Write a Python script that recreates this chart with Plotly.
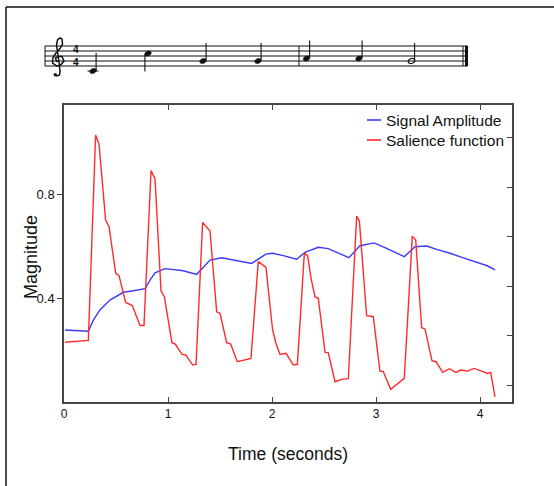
import math
import plotly.graph_objects as go

# ---------------- data ----------------
time_salience = [0.01, 0.234, 0.304, 0.337, 0.40, 0.433, 0.497, 0.529, 0.593, 0.657, 0.731, 0.769,
                 0.837, 0.875, 0.933, 0.965, 1.038, 1.07, 1.135, 1.17, 1.237, 1.27,
                 1.333, 1.404, 1.468, 1.5, 1.564, 1.603, 1.666, 1.798,
                 1.868, 1.942, 2.006, 2.038, 2.077, 2.135, 2.205, 2.244,
                 2.311, 2.343, 2.375, 2.413, 2.445, 2.51, 2.541, 2.606, 2.67, 2.734,
                 2.814, 2.84, 2.91, 2.974, 3.038, 3.07, 3.141, 3.272,
                 3.349, 3.382, 3.439, 3.471, 3.538, 3.577, 3.641, 3.705, 3.769, 3.814,
                 3.878, 3.942, 4.016, 4.07, 4.103, 4.144]
salience = [0.23, 0.237, 1.027, 0.992, 0.70, 0.674, 0.495, 0.486, 0.383, 0.371, 0.294, 0.294,
            0.890, 0.860, 0.427, 0.405, 0.228, 0.223, 0.183, 0.181, 0.142, 0.145,
            0.691, 0.658, 0.347, 0.341, 0.228, 0.223, 0.155, 0.168,
            0.54, 0.518, 0.277, 0.226, 0.183, 0.187, 0.142, 0.145,
            0.572, 0.562, 0.476, 0.405, 0.399, 0.191, 0.19, 0.078, 0.087, 0.09,
            0.715, 0.697, 0.332, 0.328, 0.119, 0.117, 0.049, 0.091,
            0.638, 0.623, 0.286, 0.281, 0.159, 0.155, 0.114, 0.128, 0.114, 0.123,
            0.119, 0.129, 0.119, 0.110, 0.114, 0.02]

time_amplitude = [0.01, 0.234, 0.282, 0.346, 0.442, 0.57, 0.667, 0.779, 0.827, 0.875, 0.971,
                  1.147, 1.276, 1.34, 1.404, 1.516, 1.804, 1.942, 2.006, 2.109, 2.237,
                  2.317, 2.445, 2.541, 2.638, 2.74, 2.846, 2.981, 3.07, 3.183, 3.272,
                  3.375, 3.487, 3.583, 3.712, 3.84, 3.968, 4.07, 4.144]
amplitude = [0.277, 0.272, 0.315, 0.354, 0.392, 0.422, 0.428, 0.436, 0.469, 0.497, 0.513,
             0.505, 0.491, 0.52, 0.546, 0.555, 0.533, 0.569, 0.572, 0.563, 0.549,
             0.576, 0.595, 0.59, 0.572, 0.555, 0.601, 0.612, 0.597, 0.574, 0.559,
             0.597, 0.6, 0.587, 0.572, 0.554, 0.538, 0.524, 0.508]

series_names = ["Signal Amplitude", "Salience function"]
x_ticks = [0, 1, 2, 3, 4]
y_ticks = [0.4, 0.8]
y_tick_labels = ["0.4", "0.8"]

# melody shown on the staff
note_pitches = ["C4", "C5", "G4", "G4", "A4", "A4", "G4"]
note_durations = ["quarter", "quarter", "quarter", "quarter", "quarter", "quarter", "half"]
note_measures = [1, 1, 1, 1, 2, 2, 2]

# ---------------- layout geometry ----------------
W, H = 554, 486
ML, MR, MT, MB = 64, 42, 105, 84
PW, PH = W - ML - MR, H - MT - MB
FONT = "Liberation Sans, Arial, Helvetica, sans-serif"
AX = "#444444"
RED = "#ff2b2b"
BLUE = "#3a3aff"


def px(x):
    return (x - ML) / PW


def py(y):
    return (H - MB - y) / PH


def path_from(points, close=False):
    s = "M " + " L ".join(f"{px(a):.5f},{py(b):.5f}" for a, b in points)
    return s + (" Z" if close else "")


fig = go.Figure()
fig.add_trace(go.Scatter(x=time_amplitude, y=amplitude, mode="lines", name=series_names[0],
                         line=dict(color=BLUE, width=1.4), showlegend=False))
fig.add_trace(go.Scatter(x=time_salience, y=salience, mode="lines", name=series_names[1],
                         line=dict(color=RED, width=1.4), showlegend=False))
fig.add_trace(go.Scatter(x=[None], y=[None], yaxis="y2", showlegend=False, hoverinfo="skip"))

shapes = []
annotations = []

# legend (manual: short line + label)
for i, (nm, col) in enumerate(zip(series_names, [BLUE, RED])):
    yy = 120 + i * 20
    shapes.append(dict(type="line", xref="paper", yref="paper", x0=px(367), x1=px(381),
                       y0=py(yy), y1=py(yy), line=dict(color=col, width=1.6)))
    annotations.append(dict(text=nm, xref="paper", yref="paper", x=px(384), y=py(yy),
                            xanchor="left", yanchor="middle", showarrow=False,
                            font=dict(family=FONT, size=15.5, color="#111")))

# y title
annotations.append(dict(text="Magnitude", xref="paper", yref="paper", x=px(31), y=py(257),
                        textangle=-90, showarrow=False, xanchor="center", yanchor="middle",
                        font=dict(family=FONT, size=18, color="#111")))

# outer frame (left and top edges)
shapes.append(dict(type="line", xref="paper", yref="paper", x0=px(6), x1=px(6), y0=py(7), y1=py(490),
                   line=dict(color="#111", width=1.5)))
shapes.append(dict(type="line", xref="paper", yref="paper", x0=px(6), x1=px(560), y0=py(7), y1=py(7),
                   line=dict(color="#111", width=1.5)))

# ---------------- music staff ----------------
STAFF_X0, STAFF_X1 = 45, 468
STAFF_BOTTOM, SP = 66, 5
for k in range(5):
    yy = STAFF_BOTTOM - k * SP
    shapes.append(dict(type="line", xref="paper", yref="paper", x0=px(STAFF_X0), x1=px(STAFF_X1),
                       y0=py(yy), y1=py(yy), line=dict(color="#111", width=1)))
for bx, bw in [(STAFF_X0, 1), (299, 1), (463, 1), (466.5, 3)]:
    shapes.append(dict(type="line", xref="paper", yref="paper", x0=px(bx), x1=px(bx),
                       y0=py(STAFF_BOTTOM), y1=py(STAFF_BOTTOM - 4 * SP), line=dict(color="#111", width=bw)))

# treble clef drawn as a path
clef = [(59, 61), (56.5, 61.5), (55.5, 58), (58.5, 56.5), (62, 56.5), (64, 61), (61, 64.5),
        (57, 66), (52.5, 63), (53, 57.5), (56, 53), (60, 48.5), (62.5, 44), (62, 39), (60, 38),
        (57.5, 40), (56.5, 45), (57.5, 52), (59, 62), (60, 71), (59.5, 75), (57, 76), (55, 74.5)]
shapes.append(dict(type="path", xref="paper", yref="paper", path=path_from(clef),
                   line=dict(color="#111", width=1.5)))
shapes.append(dict(type="circle", xref="paper", yref="paper", x0=px(53.5), x1=px(57), y0=py(76.5),
                   y1=py(73), fillcolor="#111", line=dict(color="#111", width=0)))
# time signature 4/4
annotations.append(dict(text="<b>4<br>4</b>", xref="paper", yref="paper", x=px(76), y=py(56),
                        showarrow=False, xanchor="center", yanchor="middle",
                        font=dict(family="Liberation Sans, Arial, sans-serif", size=10, color="#111")))

steps = {"C4": -2, "D4": -1, "E4": 0, "F4": 1, "G4": 2, "A4": 3, "B4": 4, "C5": 5}
measure_start = {1: 93, 2: 306.5}
measure_step = {1: 55, 2: 52.5}
count = {1: 0, 2: 0}
for pitch, dur, m in zip(note_pitches, note_durations, note_measures):
    cx = measure_start[m] + count[m] * measure_step[m]
    count[m] += 1
    st = steps[pitch]
    cy = STAFF_BOTTOM - st * SP / 2
    s = -2
    while s >= st:
        shapes.append(dict(type="line", xref="paper", yref="paper", x0=px(cx - 5.5), x1=px(cx + 5.5),
                           y0=py(STAFF_BOTTOM - s * SP / 2), y1=py(STAFF_BOTTOM - s * SP / 2),
                           line=dict(color="#111", width=1)))
        s -= 2
    rx, ry, ang = 3.4, 2.4, math.radians(-22)
    pts = []
    for j in range(24):
        a = 2 * math.pi * j / 24
        ex, ey = rx * math.cos(a), ry * math.sin(a)
        pts.append((cx + ex * math.cos(ang) - ey * math.sin(ang), cy + ex * math.sin(ang) + ey * math.cos(ang)))
    if dur == "half":
        shapes.append(dict(type="path", xref="paper", yref="paper", path=path_from(pts, True),
                           fillcolor="rgba(0,0,0,0)", line=dict(color="#111", width=1.2)))
    else:
        shapes.append(dict(type="path", xref="paper", yref="paper", path=path_from(pts, True),
                           fillcolor="#111", line=dict(color="#111", width=0.5)))
    if st >= 4:
        sx, y0s, y1s = cx - 3.1, cy + 0.8, cy + 18
    else:
        sx, y0s, y1s = cx + 3.1, cy - 0.8, cy - 18
    shapes.append(dict(type="line", xref="paper", yref="paper", x0=px(sx), x1=px(sx),
                       y0=py(y0s), y1=py(y1s), line=dict(color="#111", width=1.1)))

fig.update_layout(
    width=W, height=H,
    margin=dict(l=ML, r=MR, t=MT, b=MB, autoexpand=False),
    paper_bgcolor="white", plot_bgcolor="white",
    font=dict(family=FONT, color="#111"),
    shapes=shapes, annotations=annotations,
    xaxis=dict(range=[0, PW / 104.0], tickvals=x_ticks, ticks="inside", ticklen=5, tickwidth=1.3,
               tickcolor=AX, showline=True, linecolor=AX, linewidth=1.5, mirror="ticks",
               showgrid=False, zeroline=False, tickfont=dict(size=12, family=FONT),
               title=dict(text="Time (seconds)", font=dict(size=17.5, family=FONT), standoff=28)),
    yaxis=dict(range=[0, PH / 260.0], tickvals=y_ticks, ticktext=y_tick_labels, ticks="outside",
               ticklen=5, tickwidth=1.3, tickcolor=AX, showline=True, linecolor=AX, linewidth=1.5,
               showgrid=False, zeroline=False, tickfont=dict(size=13, family=FONT)),
    yaxis2=dict(overlaying="y", side="right", range=[-17 / 49.5, (PH - 17) / 49.5], dtick=1, tick0=0,
                ticks="inside", ticklen=5, tickwidth=1.3, tickcolor=AX, showline=True, linecolor=AX,
                linewidth=1.5, showticklabels=False, showgrid=False, zeroline=False),
)

fig.write_html("out.html", config={"displayModeBar": False},
               post_script="document.body.style.margin='0px';")
